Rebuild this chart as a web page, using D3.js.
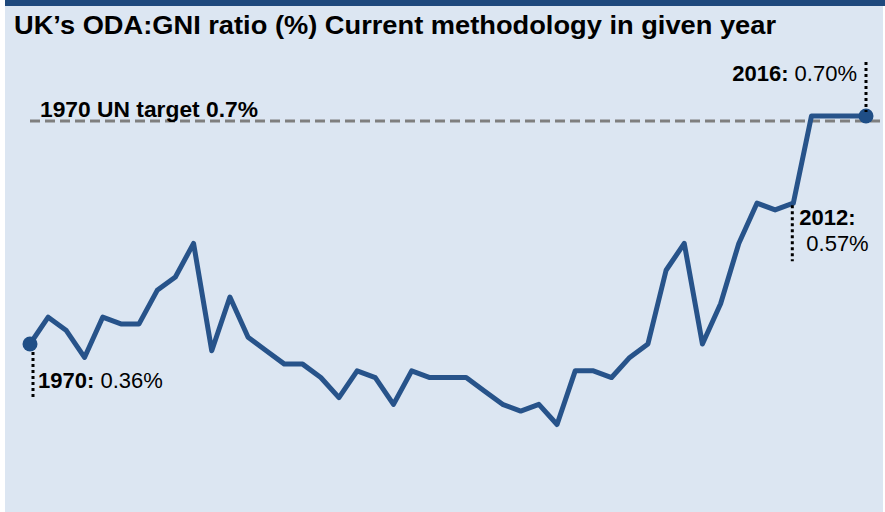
<!DOCTYPE html>
<html lang="en">
<head>
    <meta charset="UTF-8">
    <title>UK ODA:GNI ratio</title>
    <script src="https://d3js.org/d3.v7.min.js"></script>
    <style>
        body { margin: 0; background: #fff; font-family: Arial, "Liberation Sans", sans-serif; }
        .title { font-size: 26px; font-weight: bold; fill: #000; }
        .note { font-size: 22px; fill: #000; }
        .target-label { font-size: 22px; font-weight: bold; fill: #000; }
    </style>
</head>
<body>
    <svg width="885" height="512"></svg>
    <script>
        // UK ODA:GNI ratio (%), 1970-2016
        const years = d3.range(1970, 2017);
        const ratios = [0.36, 0.40, 0.38, 0.34, 0.40, 0.39, 0.39, 0.44, 0.46, 0.51,
                        0.35, 0.43, 0.37, 0.35, 0.33, 0.33, 0.31, 0.28, 0.32, 0.31,
                        0.27, 0.32, 0.31, 0.31, 0.31, 0.29, 0.27, 0.26, 0.27, 0.24,
                        0.32, 0.32, 0.31, 0.34, 0.36, 0.47, 0.51, 0.36, 0.42, 0.51,
                        0.57, 0.56, 0.57, 0.70, 0.70, 0.70, 0.70];
        const targetValue = 0.7;
        const targetLabel = "1970 UN target 0.7%";
        const callouts = [
            { year: 1970, bold: "1970:", text: " 0.36%" },
            { year: 2012, bold: "2012:", text: "0.57%" },
            { year: 2016, bold: "2016:", text: " 0.70%" }
        ];

        const data = years.map((yr, i) => ({ year: yr, value: ratios[i] }));

        const svg = d3.select("svg");

        // panel background and top rule
        svg.append("rect").attr("x", 5).attr("y", 0).attr("width", 878).attr("height", 512).attr("fill", "#dce6f2");
        svg.append("rect").attr("x", 5).attr("y", 0).attr("width", 880).attr("height", 6).attr("fill", "#1f497d");

        svg.append("text")
           .attr("class", "title")
           .attr("x", 14)
           .attr("y", 34)
           .attr("textLength", 762)
           .attr("lengthAdjust", "spacingAndGlyphs")
           .text("UK\u2019s ODA:GNI ratio (%) Current methodology in given year");

        const x = d3.scaleLinear()
                    .domain([1970, 2016])
                    .range([30, 866]);

        const y = d3.scaleLinear()
                    .domain([0.2, 0.7])
                    .range([451.3, 116]);

        // target line (sits just under the series line)
        svg.append("line")
           .attr("x1", 30).attr("x2", 882)
           .attr("y1", y(targetValue) + 5).attr("y2", y(targetValue) + 5)
           .attr("stroke", "#7f7f7f")
           .attr("stroke-width", 3)
           .attr("stroke-dasharray", "10,5");

        svg.append("text")
           .attr("class", "target-label")
           .attr("x", 40)
           .attr("y", y(targetValue) + 1)
           .attr("textLength", 218)
           .attr("lengthAdjust", "spacingAndGlyphs")
           .text(targetLabel);

        const line = d3.line()
                       .x(d => x(d.year))
                       .y(d => y(d.value));

        svg.append("path")
           .datum(data)
           .attr("fill", "none")
           .attr("stroke", "#27538a")
           .attr("stroke-width", 5)
           .attr("stroke-linejoin", "round")
           .attr("d", line);

        // end markers
        svg.selectAll("circle.end")
           .data([data[0], data[data.length - 1]])
           .join("circle")
           .attr("class", "end")
           .attr("cx", d => x(d.year))
           .attr("cy", d => y(d.value))
           .attr("r", 7.5)
           .attr("fill", "#1f4e86");

        // dotted leader lines
        const dot = (x0, y0, y1) => svg.append("line")
            .attr("x1", x0).attr("x2", x0).attr("y1", y0).attr("y2", y1)
            .attr("stroke", "#000").attr("stroke-width", 3).attr("stroke-dasharray", "3,3");

        const c1970 = data[0], c2012 = data.find(d => d.year === 2012), c2016 = data[data.length - 1];
        dot(x(c1970.year) + 3, y(c1970.value) + 8, y(c1970.value) + 56);
        dot(x(c2012.year) - 1, y(c2012.value) + 2, y(c2012.value) + 58);
        dot(x(c2016.year), y(c2016.value) - 54, y(c2016.value) - 4);

        // callout texts
        const t1970 = svg.append("text").attr("class", "note").attr("x", x(1970) + 8).attr("y", y(c1970.value) + 44);
        t1970.append("tspan").attr("font-weight", "bold").text(callouts[0].bold);
        t1970.append("tspan").text(callouts[0].text);

        svg.append("text").attr("class", "note").attr("font-weight", "bold")
           .attr("x", x(2012) + 6).attr("y", y(c2012.value) + 22).text(callouts[1].bold);
        svg.append("text").attr("class", "note")
           .attr("x", x(2012) + 13).attr("y", y(c2012.value) + 48).text(callouts[1].text);

        const t2016 = svg.append("text").attr("class", "note").attr("text-anchor", "end")
                         .attr("x", x(2016) - 9).attr("y", y(c2016.value) - 35);
        t2016.append("tspan").attr("font-weight", "bold").text(callouts[2].bold);
        t2016.append("tspan").text(callouts[2].text);
    </script>
</body>
</html>
